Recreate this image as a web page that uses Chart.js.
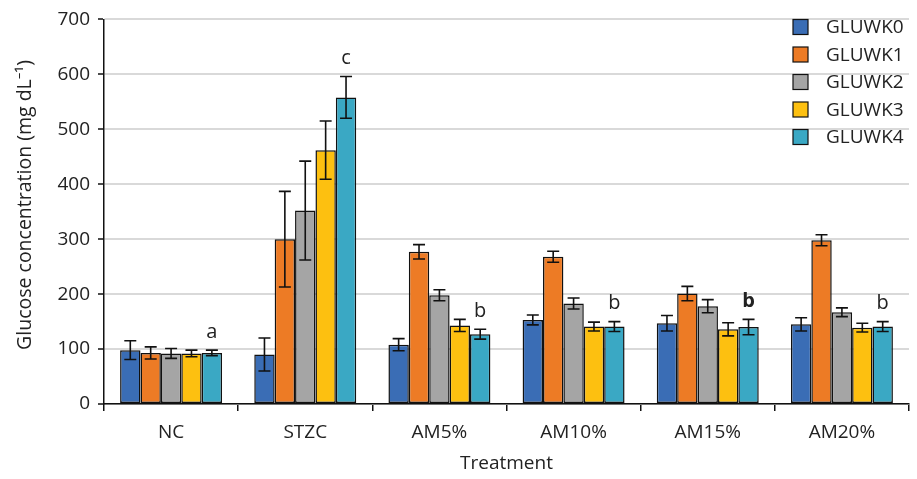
<!DOCTYPE html>
<html>
<head>
<meta charset="utf-8">
<script src="https://cdn.jsdelivr.net/npm/chart.js@4.4.1/dist/chart.umd.min.js"></script>
<style>
  html, body { margin: 0; padding: 0; background: #fff; }
  #wrap { width: 917px; height: 479px; position: relative; }
</style>
</head>
<body>
<div id="wrap"><canvas id="grafGlicose"></canvas></div>
<script>
// ------------------------------------------------------
// Dados
// ------------------------------------------------------
const categorias = ["NC", "STZC", "AM5%", "AM10%", "AM15%", "AM20%"];
const series = ["GLUWK0", "GLUWK1", "GLUWK2", "GLUWK3", "GLUWK4"];
const cores = ["#3a6db5", "#ed7b25", "#a5a5a5", "#fdc010", "#3aa8c4"];

const gluwk0 = [98, 90, 108, 153, 147, 145];
const gluwk1 = [93, 300, 277, 268, 201, 298];
const gluwk2 = [92, 352, 198, 183, 178, 167];
const gluwk3 = [92, 462, 143, 141, 136, 139];
const gluwk4 = [93, 558, 127, 141, 140, 141];

const erro0 = [17, 30, 11, 9, 14, 12];
const erro1 = [11, 87, 13, 10, 13, 10];
const erro2 = [9, 90, 10, 10, 12, 8];
const erro3 = [6, 53, 11, 8, 12, 8];
const erro4 = [5, 38, 9, 9, 14, 9];

// letras de significância (sobre a última série)
const letras = ["a", "c", "b", "b", "b", "b"];
const letraNegrito = [false, false, false, false, true, false];

const yTicks = [0, 100, 200, 300, 400, 500, 600, 700];
const tituloY = "Glucose concentration (mg dL\u207B\u00B9)";

const valores = [gluwk0, gluwk1, gluwk2, gluwk3, gluwk4];
const erros = [erro0, erro1, erro2, erro3, erro4];
const fonte = "'Open Sans', 'Noto Sans', sans-serif";

// ------------------------------------------------------
// Plugin: barras de erro, letras, título Y e legenda
// ------------------------------------------------------
const extrasPlugin = {
  id: "extras",
  afterDatasetsDraw(chart) {
    const ctx = chart.ctx;
    const y = chart.scales.y;

    ctx.save();
    ctx.strokeStyle = "#111";
    ctx.lineWidth = 1.6;
    chart.data.datasets.forEach((ds, i) => {
      const meta = chart.getDatasetMeta(i);
      meta.data.forEach((bar, j) => {
        const v = ds.data[j];
        const e = erros[i][j];
        const yTop = y.getPixelForValue(v + e);
        const yBot = y.getPixelForValue(v - e);
        const cap = 6;
        ctx.beginPath();
        ctx.moveTo(bar.x, yTop);
        ctx.lineTo(bar.x, yBot);
        ctx.moveTo(bar.x - cap, yTop);
        ctx.lineTo(bar.x + cap, yTop);
        ctx.moveTo(bar.x - cap, yBot);
        ctx.lineTo(bar.x + cap, yBot);
        ctx.stroke();
      });
    });

    // letras
    const ult = series.length - 1;
    const metaUlt = chart.getDatasetMeta(ult);
    ctx.fillStyle = "#222";
    ctx.textAlign = "center";
    ctx.textBaseline = "middle";
    letras.forEach((l, j) => {
      const bar = metaUlt.data[j];
      const topo = y.getPixelForValue(valores[ult][j] + erros[ult][j]);
      ctx.font = (letraNegrito[j] ? "bold " : "") + "20px " + fonte;
      ctx.fillText(l, bar.x, topo - 18);
    });

    // título do eixo Y
    ctx.save();
    ctx.translate(25, 205);
    ctx.rotate(-Math.PI / 2);
    ctx.font = "19.5px " + fonte;
    ctx.fillText(tituloY, 0, 0);
    ctx.restore();

    // legenda
    const lx = 793, ly0 = 27, passo = 27.5, caixa = 15;
    ctx.textAlign = "left";
    ctx.font = "19px " + fonte;
    series.forEach((s, i) => {
      const cy = ly0 + i * passo;
      ctx.fillStyle = cores[i];
      ctx.fillRect(lx, cy - caixa / 2, caixa, caixa);
      ctx.lineWidth = 1.2;
      ctx.strokeStyle = "#111";
      ctx.strokeRect(lx, cy - caixa / 2, caixa, caixa);
      ctx.fillStyle = "#222";
      ctx.fillText(s, lx + 33, cy + 1);
    });
    ctx.restore();
  }
};

// ------------------------------------------------------
// Gráfico
// ------------------------------------------------------
const datasets = series.map((s, i) => ({
  label: s,
  data: valores[i],
  backgroundColor: cores[i],
  borderColor: "#111",
  borderWidth: 1.5,
  borderSkipped: false,
  categoryPercentage: 0.76,
  barPercentage: 1.0
}));

new Chart(document.getElementById("grafGlicose"), {
  type: "bar",
  data: { labels: categorias, datasets },
  plugins: [extrasPlugin],
  options: {
    responsive: true,
    maintainAspectRatio: false,
    animation: false,
    layout: { padding: { top: 19, right: 8, left: 0, bottom: 0 } },
    plugins: {
      legend: { display: false },
      tooltip: { enabled: false }
    },
    scales: {
      x: {
        offset: true,
        grid: {
          offset: true,
          drawOnChartArea: false,
          color: "#111",
          tickLength: 7,
          lineWidth: 1.5
        },
        border: { color: "#111", width: 1.5 },
        ticks: { color: "#222", font: { family: fonte, size: 19 }, padding: 10 },
        title: {
          display: true,
          text: "Treatment",
          color: "#222",
          font: { family: fonte, size: 19 },
          padding: { top: 2 }
        },
        afterFit(scale) { scale.height = 75; }
      },
      y: {
        min: 0,
        max: 700,
        afterBuildTicks(scale) { scale.ticks = yTicks.map(v => ({ value: v })); },
        grid: {
          color: "#d9d9d9",
          lineWidth: 2,
          tickColor: "#111",
          tickLength: 6,
          tickWidth: 1.5
        },
        border: { color: "#111", width: 1.5 },
        ticks: { color: "#222", font: { family: fonte, size: 19 }, padding: 8 },
        title: { display: false },
        afterFit(scale) { scale.width = 104; }
      }
    }
  }
});
</script>
</body>
</html>
